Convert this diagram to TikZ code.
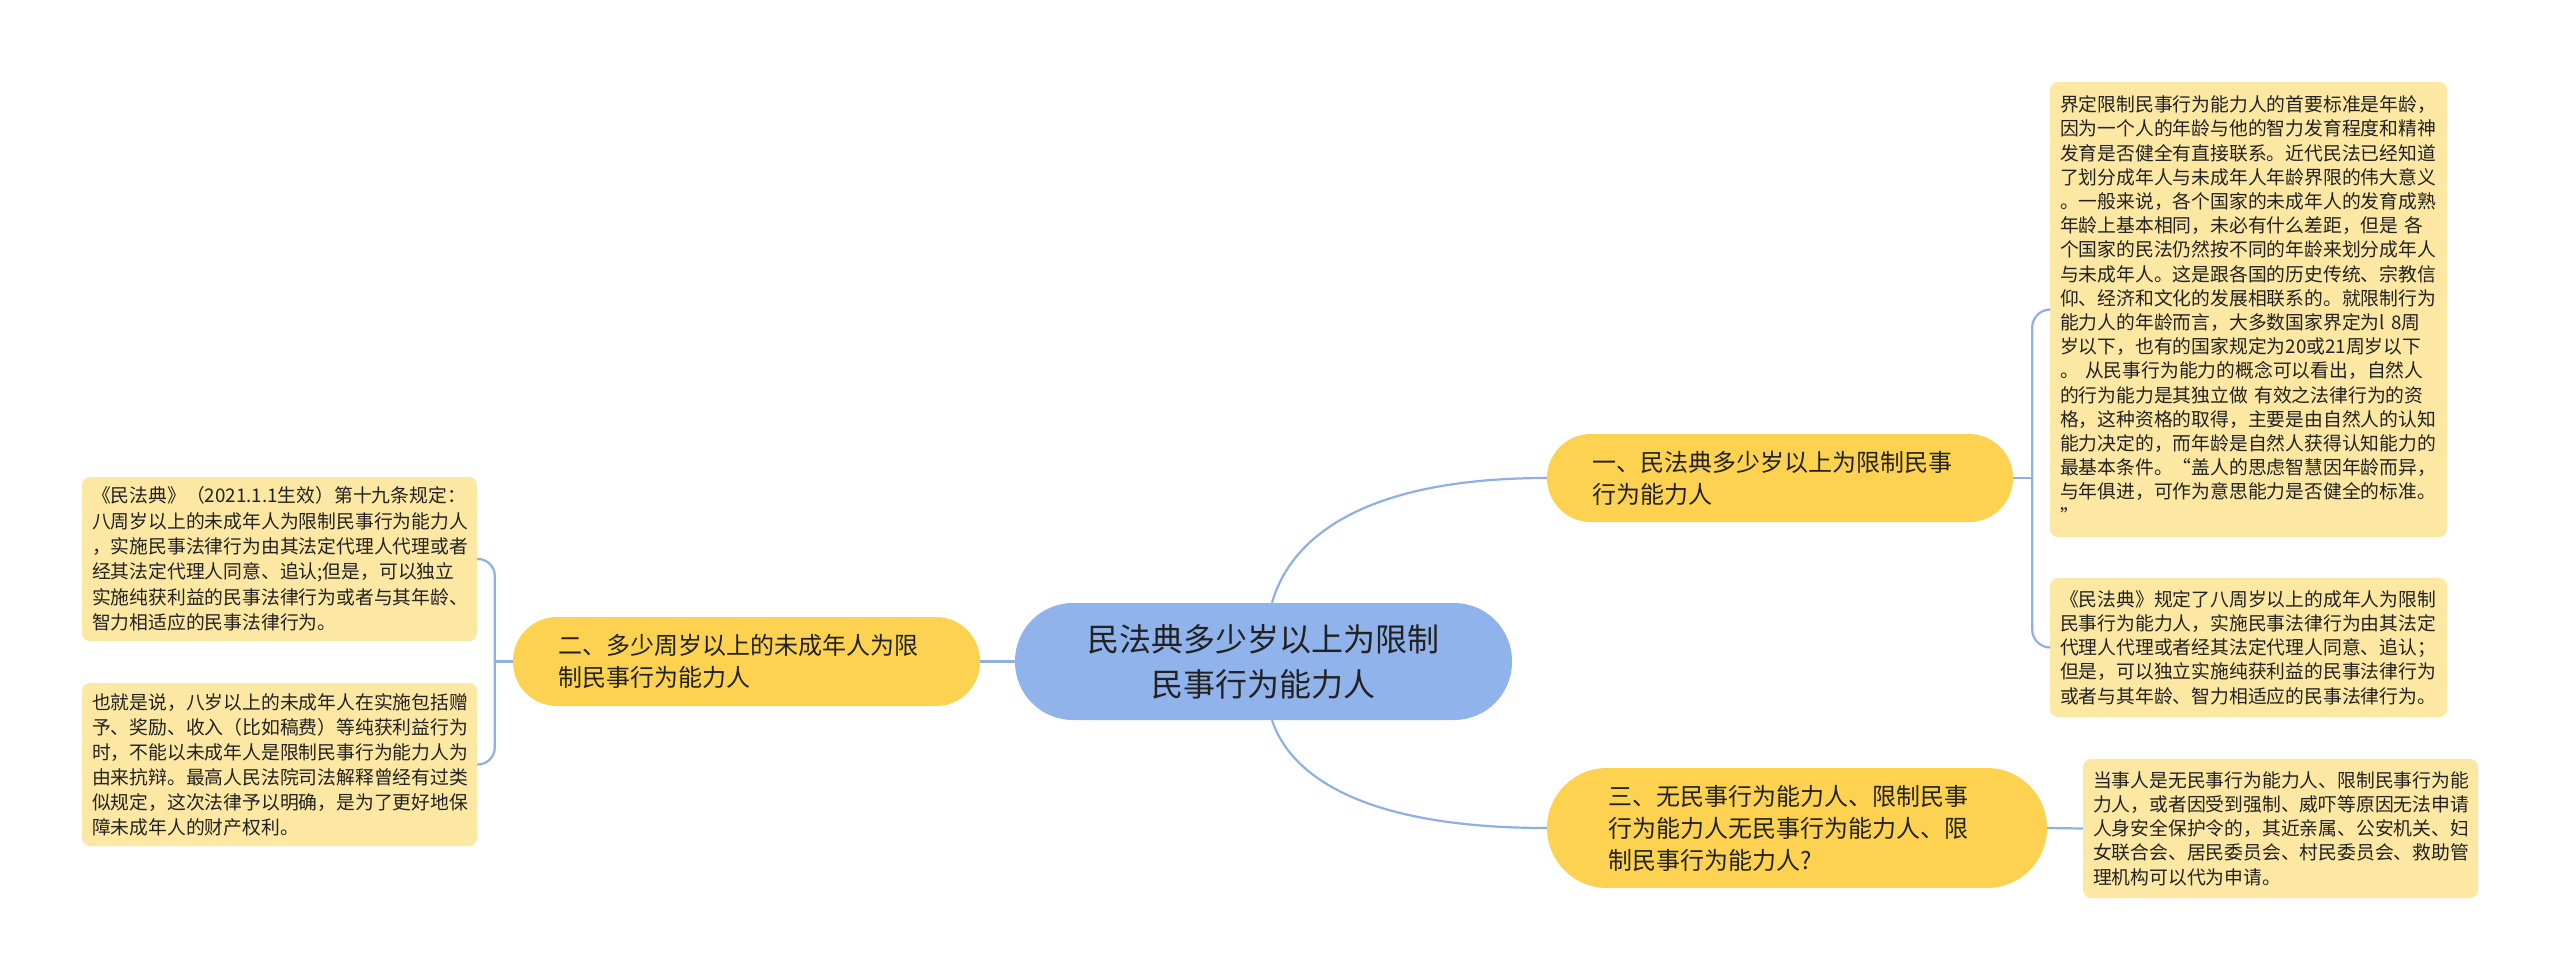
\documentclass[tikz,border=0pt]{standalone}
\usepackage{fontspec}
\setmainfont{Noto Sans CJK SC}
\definecolor{leafc}{RGB}{252,231,163}
\definecolor{branchc}{RGB}{253,210,80}
\definecolor{centerc}{RGB}{143,179,234}
\definecolor{linec}{RGB}{142,176,226}
\definecolor{txt}{RGB}{34,34,34}
\tikzset{
  leaf/.style={rectangle, rounded corners=8pt, fill=leafc, draw=none, inner xsep=10pt, inner ysep=0pt,
    text width=376pt, align=left, text=txt, font=\fontsize{18.8}{24.2}\selectfont},
  branch/.style={rectangle, fill=branchc, draw=none, inner ysep=0pt, align=left, text=txt,
    font=\fontsize{24}{32}\selectfont},
  hub/.style={rectangle, rounded corners=58pt, fill=centerc, draw=none, inner xsep=40pt, inner ysep=0pt,
    text width=417pt, minimum height=117pt, align=center, text=txt, font=\fontsize{32}{45}\selectfont},
  conn/.style={draw=linec, line width=2.2pt},
}
\begin{document}
\begin{tikzpicture}[x=1pt,y=-1pt]
\useasboundingbox (0,0) rectangle (2560,980);
\fill[white] (0,0) rectangle (2560,980);

\node[hub] (C) at (1263.5,661.5) {民法典多少岁以上为限制\\民事行为能力人};

\node[branch, rounded corners=44pt, inner xsep=45pt, text width=376pt, minimum height=88pt] (B1) at (1780,478)
  {一、民法典多少岁以上为限制民事\\行为能力人};
\node[branch, rounded corners=44pt, inner xsep=45pt, text width=377pt, minimum height=89pt] (B2) at (746.5,661.5)
  {二、多少周岁以上的未成年人为限\\制民事行为能力人};
\node[branch, rounded corners=60pt, inner xsep=61pt, text width=378pt, minimum height=120pt] (B3) at (1797,828)
  {三、无民事行为能力人、限制民事\\行为能力人无民事行为能力人、限\\制民事行为能力人?};

\node[leaf, text width=377pt, minimum height=455pt] (R1) at (2248.5,309.5)
  {界定限制民事行为能力人的首要标准是年龄，\\
   因为一个人的年龄与他的智力发育程度和精神\\
   发育是否健全有直接联系。近代民法已经知道\\
   了划分成年人与未成年人年龄界限的伟大意义\\
   。一般来说，各个国家的未成年人的发育成熟\\
   年龄上基本相同，未必有什么差距，但是 各\\
   个国家的民法仍然按不同的年龄来划分成年人\\
   与未成年人。这是跟各国的历史传统、宗教信\\
   仰、经济和文化的发展相联系的。就限制行为\\
   能力人的年龄而言，大多数国家界定为l 8周\\
   岁以下，也有的国家规定为20或21周岁以下\\
   。 从民事行为能力的概念可以看出，自然人\\
   的行为能力是其独立做 有效之法律行为的资\\
   格，这种资格的取得，主要是由自然人的认知\\
   能力决定的，而年龄是自然人获得认知能力的\\
   最基本条件。“盖人的思虑智慧因年龄而异，\\
   与年俱进，可作为意思能力是否健全的标准。\\
   ”};
\node[leaf, text width=377pt, minimum height=139pt] (R2) at (2248.5,647.5)
  {《民法典》规定了八周岁以上的成年人为限制\\
   民事行为能力人，实施民事法律行为由其法定\\
   代理人代理或者经其法定代理人同意、追认；\\
   但是，可以独立实施纯获利益的民事法律行为\\
   或者与其年龄、智力相适应的民事法律行为。};
\node[leaf, text width=375pt, minimum height=139pt] (R3) at (2280.5,828.5)
  {当事人是无民事行为能力人、限制民事行为能\\
   力人，或者因受到强制、威吓等原因无法申请\\
   人身安全保护令的，其近亲属、公安机关、妇\\
   女联合会、居民委员会、村民委员会、救助管\\
   理机构可以代为申请。};
\node[leaf, text width=375pt, minimum height=164pt, font=\fontsize{18.8}{25.3}\selectfont] (L1) at (279.5,559)
  {《民法典》（2021.1.1生效）第十九条规定：\\
   八周岁以上的未成年人为限制民事行为能力人\\
   ，实施民事法律行为由其法定代理人代理或者\\
   经其法定代理人同意、追认;但是，可以独立\\
   实施纯获利益的民事法律行为或者与其年龄、\\
   智力相适应的民事法律行为。};
\node[leaf, text width=375pt, minimum height=163pt, font=\fontsize{18.8}{25}\selectfont] (L2) at (279.5,764.5)
  {也就是说，八岁以上的未成年人在实施包括赠\\
   予、奖励、收入（比如稿费）等纯获利益行为\\
   时，不能以未成年人是限制民事行为能力人为\\
   由来抗辩。最高人民法院司法解释曾经有过类\\
   似规定，这次法律予以明确，是为了更好地保\\
   障未成年人的财产权利。};

% connectors from the centre
\draw[conn] ([xshift=8.5pt]C.north) .. controls +(18,-63) and +(-187,0) .. (B1.west);
\draw[conn] ([xshift=8.5pt]C.south) .. controls +(18,54) and +(-187,0) .. (B3.west);
\draw[conn] (C.west) -- (B2.east);

% branch 1 bracket
\coordinate (J1) at ([xshift=19pt]B1.east);
\draw[conn] (B1.east) -- (J1);
\draw[conn, rounded corners=18pt] (J1) |- (R1.west);
\draw[conn, rounded corners=18pt] (J1) |- (R2.west);

% branch 3
\draw[conn] (B3.east) -- (R3.west);

% branch 2 bracket
\coordinate (J2) at ([xshift=-18pt]B2.west);
\draw[conn] (B2.west) -- (J2);
\draw[conn, rounded corners=17pt] (J2) |- (L1.east);
\draw[conn, rounded corners=17pt] (J2) |- (L2.east);
\end{tikzpicture}
\end{document}
